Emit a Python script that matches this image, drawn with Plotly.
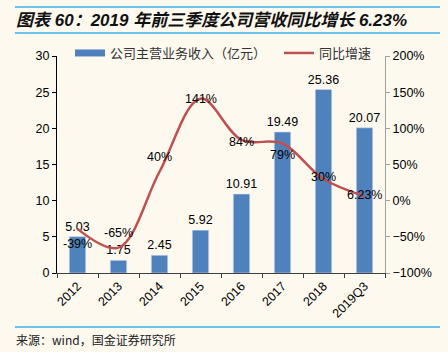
import plotly.graph_objects as go

categories = ["2012", "2013", "2014", "2015", "2016", "2017", "2018", "2019Q3"]
revenue = [5.03, 1.75, 2.45, 5.92, 10.91, 19.49, 25.36, 20.07]
growth = [-39, -65, 40, 141, 84, 79, 30, 6.23]
growth_labels = ["-39%", "-65%", "40%", "141%", "84%", "79%", "30%", "6.23%"]
growth_shift = [-15, 15, 15, 0, -2, -11, 2, 1]

BLUE = "#4F81BD"
RED = "#C0504D"
BG = "#FDF9EF"
LINE_BLUE = "#3DAEE9"
FONT = "Liberation Sans, Noto Sans CJK SC, sans-serif"

W, H = 448, 352
L, R, T, B = 57, 63, 56, 79
pw, ph = W - L - R, H - T - B

def px(x):
    return (x - L) / pw

def py(y):
    return (H - B - y) / ph

fig = go.Figure()
fig.add_trace(go.Bar(
    x=categories, y=revenue, marker_color=BLUE, width=0.4,
    marker_line=dict(color="#D9E2F0", width=0.5),
    text=[f"{v:.2f}" for v in revenue], textposition="outside",
    constraintext="none",
    textfont=dict(size=12.5, color="#000000", family=FONT),
    cliponaxis=False, showlegend=False, yaxis="y",
))
fig.add_trace(go.Scatter(
    x=categories, y=growth, mode="lines", yaxis="y2",
    line=dict(color=RED, width=2.5, shape="spline", smoothing=1.0),
    cliponaxis=False, showlegend=False,
))
for i, (g, t, s) in enumerate(zip(growth, growth_labels, growth_shift)):
    fig.add_annotation(x=i, y=g, xref="x", yref="y2", text=t, showarrow=False,
                       yshift=s, font=dict(size=12.5, color="#000000", family=FONT))

# legend entries
fig.add_trace(go.Scatter(x=[categories[0]], y=[None], mode="lines",
                         line=dict(color=BLUE, width=7),
                         name="公司主营业务收入（亿元）", yaxis="y", legend="legend"))
fig.add_trace(go.Scatter(x=[categories[0]], y=[None], mode="lines",
                         line=dict(color=RED, width=2.5),
                         name="同比增速", yaxis="y2", legend="legend2"))

legend_font = dict(size=13, color="#333333", family="Noto Sans CJK SC, sans-serif")
fig.update_layout(
    width=W, height=H,
    margin=dict(l=L, r=R, t=T, b=B, pad=0),
    paper_bgcolor=BG, plot_bgcolor=BG,
    font=dict(family=FONT, size=12, color="#000000"),
    bargap=0.6,
    legend=dict(orientation="h", x=px(70), y=py(38), xanchor="left", yanchor="top",
                font=legend_font, bgcolor="rgba(0,0,0,0)", itemwidth=30),
    legend2=dict(orientation="h", x=px(279), y=py(38), xanchor="left", yanchor="top",
                 font=legend_font, bgcolor="rgba(0,0,0,0)", itemwidth=30),
    xaxis=dict(
        type="category", categoryorder="array", categoryarray=categories,
        range=[-0.5, len(categories) - 0.5], autorange=False,
        tickangle=-45, showline=True, linecolor="#404040", linewidth=1,
        ticks="outside", ticklen=4, tickcolor="#404040", tickson="boundaries",
        showgrid=False, tickfont=dict(size=12.5),
    ),
    yaxis=dict(
        range=[0, 30], dtick=5, showline=True, linecolor="#000000", linewidth=1,
        ticks="outside", ticklen=4, tickcolor="#000000", showgrid=False,
        zeroline=False, tickfont=dict(size=12.5),
    ),
    yaxis2=dict(
        range=[-100, 200], dtick=50, overlaying="y", side="right",
        showline=True, linecolor="#A0A0A0", linewidth=1, ticks="outside", ticklen=4,
        tickcolor="#A0A0A0", showgrid=False, zeroline=False, ticksuffix="%",
        tickfont=dict(size=12.5),
    ),
)

# header and footer rules
for yy in (7, 33, 327):
    fig.add_shape(type="line", xref="paper", yref="paper",
                  x0=px(15), x1=px(440), y0=py(yy), y1=py(yy),
                  line=dict(color=LINE_BLUE, width=1.5))

fig.add_annotation(text="图表 60：2019 年前三季度公司营收同比增长 6.23%",
                   xref="paper", yref="paper", x=px(14), y=py(20),
                   xanchor="left", yanchor="middle", showarrow=False,
                   font=dict(size=17, color="#111111", family=FONT,
                             weight="bold", style="italic"))
fig.add_annotation(text="来源：wind，国金证券研究所",
                   xref="paper", yref="paper", x=px(14), y=py(339),
                   xanchor="left", yanchor="middle", showarrow=False,
                   font=dict(size=12, color="#222222", family="Noto Sans CJK SC, sans-serif"))

fig.write_html("out.html")
